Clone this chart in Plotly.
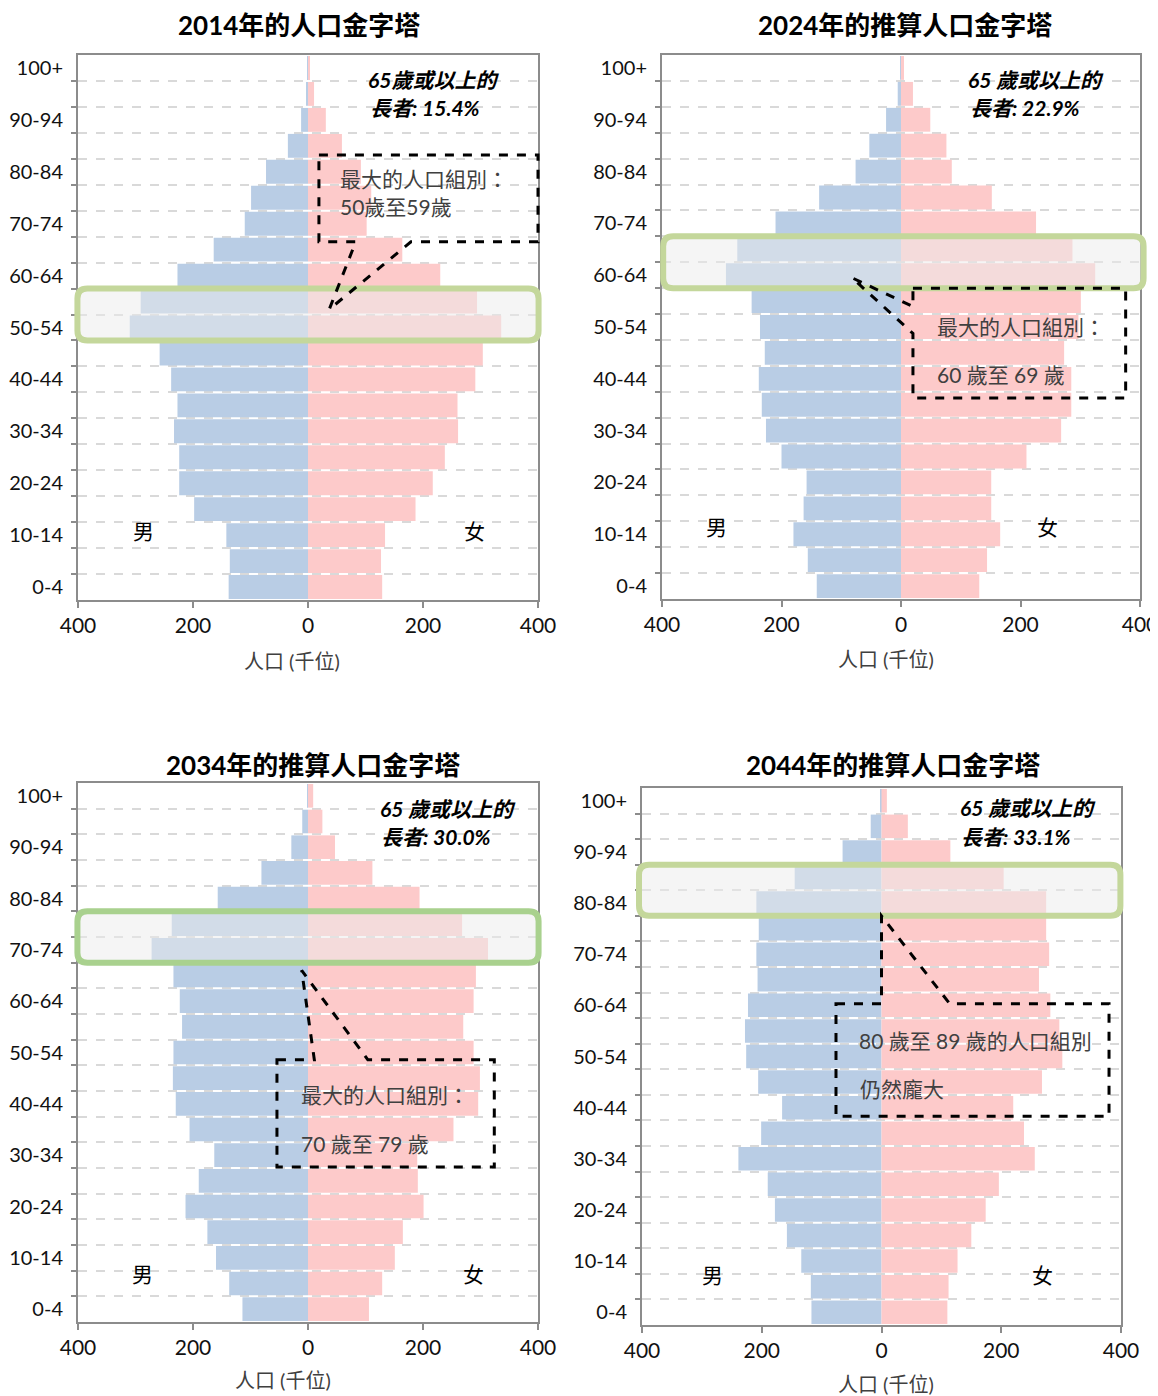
import plotly.graph_objects as go

# ---------------- data ----------------
age_groups = ["0-4", "5-9", "10-14", "15-19", "20-24", "25-29", "30-34", "35-39",
              "40-44", "45-49", "50-54", "55-59", "60-64", "65-69", "70-74",
              "75-79", "80-84", "85-89", "90-94", "95-99", "100+"]
shown_labels = ["0-4", "10-14", "20-24", "30-34", "40-44", "50-54",
                "60-64", "70-74", "80-84", "90-94", "100+"]
x_tick_values = [-400, -200, 0, 200, 400]
x_tick_text = ["400", "200", "0", "200", "400"]

titles = ["2014年的人口金字塔", "2024年的推算人口金字塔",
          "2034年的推算人口金字塔", "2044年的推算人口金字塔"]
x_title = "人口 (千位)"

male_2014 = [138, 136, 142, 198, 224, 224, 233, 227, 238, 258, 310, 291, 227, 164, 110, 99, 73, 35, 12, 3, 0.5]
female_2014 = [129, 127, 134, 187, 217, 238, 261, 260, 291, 304, 336, 294, 230, 164, 102, 110, 92, 59, 31, 10.5, 2.5]

male_2024 = [141, 156, 180, 163, 158, 200, 226, 233, 238, 228, 236, 250, 293, 274, 210, 137, 76, 53, 25, 5.5, 1]
female_2024 = [131, 144, 166, 151, 151, 210, 268, 285, 285, 273, 297, 301, 325, 287, 226, 152, 85, 76, 49, 20, 5]

male_2034 = [114, 137, 160, 175, 213, 190, 163, 206, 230, 235, 234, 219, 223, 234, 272, 237, 157, 81, 29, 10, 1]
female_2034 = [106, 129, 151, 165, 201, 191, 190, 253, 296, 299, 288, 270, 288, 292, 313, 268, 194, 112, 47, 25, 9]

male_2044 = [117, 118, 134, 158, 178, 190, 239, 201, 166, 206, 226, 228, 223, 207, 209, 205, 209, 145, 65, 18, 2]
female_2044 = [110, 112, 127, 150, 174, 196, 256, 238, 220, 268, 302, 297, 282, 263, 280, 275, 275, 204, 115, 44, 9]

elderly_line1 = ["65歲或以上的", "65 歲或以上的", "65 歲或以上的", "65 歲或以上的"]
elderly_line2 = ["長者: 15.4%", "長者: 22.9%", "長者: 30.0%", "長者: 33.1%"]
callout_line1 = ["最大的人口組別：", "最大的人口組別：", "最大的人口組別：", "80 歲至 89 歲的人口組別"]
callout_line2 = ["50歲至59歲", "60 歲至 69 歲", "70 歲至 79 歲", "仍然龐大"]
highlight_groups = [("50-54", "55-59"), ("60-64", "65-69"), ("70-74", "75-79"), ("80-84", "85-89")]

males = [male_2014, male_2024, male_2034, male_2044]
females = [female_2014, female_2024, female_2034, female_2044]

# ---------------- layout constants ----------------
OFF = 8                      # page body margin of the html page
W, H = 1158 - OFF, 1396 - OFF
# plot areas in window pixels: (left, right, top, bottom)
areas = [(78, 538, 55, 600), (662, 1140, 55, 599), (78, 538, 783, 1322), (642, 1121, 788, 1325)]
title_xy = [(299, 25), (905, 25), (313, 765), (893, 765)]
xtitle_xy = [(292, 661), (886, 659), (283, 1380), (886, 1384)]
green_cols = ["#c4d79b", "#c4d79b", "#a9d18e", "#c4d79b"]
MALE_C = "#b9cde5"
FEMALE_C = "#fdcaca"
FRAME_C = "#8c8c8c"
FONT = "Lato, 'Noto Sans CJK TC', sans-serif"
CJK = "'Noto Sans CJK TC', sans-serif"

XR = (-400, 400)
YR = (-0.5, len(age_groups) - 0.5)

# callout geometry in data units for each panel
callouts = [
    dict(kind="bottom", x0=19, x1=400, yt=16.65, yb=13.3, bl=83, br=179, tip=(37, 10.7),
         t1=(53, 15.76), t2=(53, 14.67)),
    dict(kind="left", x0=20, x1=376, yt=11.5, yb=7.26, bh=10.79, bl=9.75, tip=(-82, 11.9),
         t1=(57, 10.0), t2=(57, 8.18)),
    dict(kind="top", x0=-54, x1=324, yt=9.72, yb=5.54, bl=11, br=104, tip=(-11, 13.2),
         t1=(-15, 8.37), t2=(-15, 6.47)),
    dict(kind="top", x0=-76, x1=380, yt=12.06, yb=7.66, bl=0, br=114, tip=(0, 15.5),
         t1=(-41, 10.63), t2=(-39, 8.76)),
]
green_x = [(-401, 401), (-398, 406), (-401, 401), (-405, 399)]
elderly_pos = [((101, 19.56), (104, 18.46)), ((108, 19.56), (112, 18.46)),
               ((122, 19.52), (124, 18.43)), ((127, 19.72), (130, 18.6))]
sex_pos = [((-286, 2.18), (289, 2.18)), ((-308, 2.3), (246, 2.3)),
           ((-288, 1.42), (288, 1.42)), ((-283, 1.5), (269, 1.5))]

fig = go.Figure()
shapes, annotations = [], []

y_idx = list(range(len(age_groups)))
label_idx = [age_groups.index(l) for l in shown_labels]
minor_vals = [i + 0.5 for i in range(len(age_groups) - 1)]


def fx(pix):
    return (pix - OFF) / W


def fy(pix):
    return 1 - (pix - OFF) / H


def mapper(area):
    l, r, t, b = area
    def px(xv):
        return fx(l + (xv - XR[0]) / (XR[1] - XR[0]) * (r - l))
    def py(yv):
        return fy(b - (yv - YR[0]) / (YR[1] - YR[0]) * (b - t))
    return px, py


for i in range(4):
    n = "" if i == 0 else str(i + 1)
    l, r, t, b = areas[i]
    fig.add_trace(go.Bar(y=y_idx, x=[-v for v in males[i]], orientation="h",
                         marker=dict(color=MALE_C, line=dict(width=0)),
                         xaxis="x" + n, yaxis="y" + n, showlegend=False, hoverinfo="skip"))
    fig.add_trace(go.Bar(y=y_idx, x=females[i], orientation="h",
                         marker=dict(color=FEMALE_C, line=dict(width=0)),
                         xaxis="x" + n, yaxis="y" + n, showlegend=False, hoverinfo="skip"))
    fig.update_layout(**{
        "xaxis" + n: dict(domain=[fx(l), fx(r)], anchor="y" + n, range=list(XR),
                          automargin=False, ticklabeloverflow="allow",
                          tickvals=x_tick_values, ticktext=x_tick_text,
                          ticks="outside", ticklen=6, tickcolor=FRAME_C, tickwidth=2,
                          showline=True, linecolor=FRAME_C, linewidth=2, mirror=True,
                          showgrid=False, zeroline=False,
                          tickfont=dict(family=FONT, size=21, color="#111")),
        "yaxis" + n: dict(domain=[fy(b), fy(t)], anchor="x" + n, range=list(YR),
                          automargin=False, ticklabeloverflow="allow",
                          tickvals=label_idx, ticktext=shown_labels, ticks="",
                          ticklabelstandoff=9,
                          showline=True, linecolor=FRAME_C, linewidth=2, mirror=True,
                          showgrid=False, zeroline=False,
                          minor=dict(tickvals=minor_vals, ticks="outside", ticklen=5,
                                     tickcolor=FRAME_C, tickwidth=2, showgrid=True,
                                     gridcolor="#d9d9d9", gridwidth=2, griddash="dash"),
                          tickfont=dict(family=FONT, size=20, color="#111")),
    })

    px, py = mapper(areas[i])

    # highlight rounded rectangle
    g0, g1 = highlight_groups[i]
    ya = age_groups.index(g0) - 0.5
    yb_ = age_groups.index(g1) + 0.5
    xa, xb = green_x[i]
    X0, X1, Y0, Y1 = px(xa), px(xb), py(ya), py(yb_)
    rx, ry = 10 / W, 10 / H
    path = (f"M {X0+rx},{Y0} L {X1-rx},{Y0} Q {X1},{Y0} {X1},{Y0+ry} "
            f"L {X1},{Y1-ry} Q {X1},{Y1} {X1-rx},{Y1} L {X0+rx},{Y1} "
            f"Q {X0},{Y1} {X0},{Y1-ry} L {X0},{Y0+ry} Q {X0},{Y0} {X0+rx},{Y0} Z")
    shapes.append(dict(type="path", xref="paper", yref="paper", path=path,
                       fillcolor="rgba(236,236,236,0.5)", line=dict(color=green_cols[i], width=6),
                       layer="above"))

    # callout box with pointer
    c = callouts[i]
    x0, x1, yt, ybt = px(c["x0"]), px(c["x1"]), py(c["yt"]), py(c["yb"])
    tx, ty = px(c["tip"][0]), py(c["tip"][1])
    if c["kind"] == "bottom":
        pts = [(x0, yt), (x1, yt), (x1, ybt), (px(c["br"]), ybt), (tx, ty), (px(c["bl"]), ybt), (x0, ybt)]
    elif c["kind"] == "left":
        pts = [(x0, yt), (x1, yt), (x1, ybt), (x0, ybt), (x0, py(c["bl"])), (tx, ty), (x0, py(c["bh"]))]
    else:
        pts = [(x0, yt), (px(c["bl"]), yt), (tx, ty), (px(c["br"]), yt), (x1, yt), (x1, ybt), (x0, ybt)]
    cpath = "M " + " L ".join(f"{a},{bb}" for a, bb in pts) + " Z"
    shapes.append(dict(type="path", xref="paper", yref="paper", path=cpath,
                       line=dict(color="black", width=3, dash="dash"), layer="above"))

    # callout text
    for txt, pos in ((callout_line1[i], c["t1"]), (callout_line2[i], c["t2"])):
        annotations.append(dict(x=px(pos[0]), y=py(pos[1]), xref="paper", yref="paper",
                                text=txt, showarrow=False, xanchor="left", yanchor="middle",
                                font=dict(family=FONT, size=21, color="#404040")))

    # elderly share text
    for txt, pos in ((elderly_line1[i], elderly_pos[i][0]), (elderly_line2[i], elderly_pos[i][1])):
        annotations.append(dict(x=px(pos[0]), y=py(pos[1]), xref="paper", yref="paper",
                                text=f"<b><i>{txt}</i></b>", showarrow=False,
                                xanchor="left", yanchor="middle",
                                font=dict(family=FONT, size=21, color="black")))

    # sex labels
    for txt, pos in (("男", sex_pos[i][0]), ("女", sex_pos[i][1])):
        annotations.append(dict(x=px(pos[0]), y=py(pos[1]), xref="paper", yref="paper",
                                text=txt, showarrow=False, xanchor="center", yanchor="middle",
                                font=dict(family=CJK, size=21, color="black")))

    # panel title
    annotations.append(dict(x=fx(title_xy[i][0]), y=fy(title_xy[i][1]), xref="paper", yref="paper",
                            text=f"<b>{titles[i]}</b>", showarrow=False,
                            xanchor="center", yanchor="middle",
                            font=dict(family=FONT, size=26, color="black")))
    # x-axis title
    annotations.append(dict(x=fx(xtitle_xy[i][0]), y=fy(xtitle_xy[i][1]), xref="paper", yref="paper",
                            text=x_title, showarrow=False, xanchor="center", yanchor="middle",
                            font=dict(family=FONT, size=20, color="#404040")))

fig.update_layout(width=W, height=H, autosize=False,
                  margin=dict(l=0, r=0, t=0, b=0, pad=0, autoexpand=False),
                  paper_bgcolor="white", plot_bgcolor="white",
                  barmode="overlay", bargap=0.08,
                  shapes=shapes, annotations=annotations,
                  font=dict(family=FONT))

fig.write_html("out.html")
